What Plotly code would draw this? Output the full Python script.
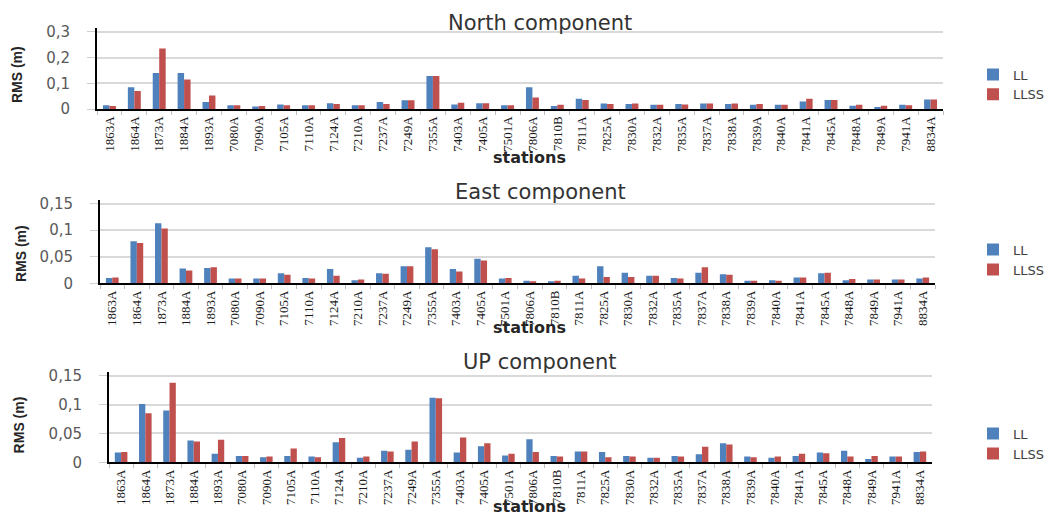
import plotly.graph_objects as go

# Station identifiers (shared by all three components)
stations = ["1863A", "1864A", "1873A", "1884A", "1893A", "7080A", "7090A", "7105A",
            "7110A", "7124A", "7210A", "7237A", "7249A", "7355A", "7403A", "7405A",
            "7501A", "7806A", "7810B", "7811A", "7825A", "7830A", "7832A", "7835A",
            "7837A", "7838A", "7839A", "7840A", "7841A", "7845A", "7848A", "7849A",
            "7941A", "8834A"]

# RMS (m) of the North component
north_ll = [0.015, 0.085, 0.140, 0.140, 0.028, 0.015, 0.010, 0.018, 0.015, 0.023,
            0.015, 0.028, 0.034, 0.128, 0.018, 0.023, 0.015, 0.085, 0.012, 0.040,
            0.022, 0.020, 0.017, 0.020, 0.022, 0.020, 0.017, 0.017, 0.030, 0.035,
            0.013, 0.008, 0.017, 0.037]
north_llss = [0.012, 0.070, 0.235, 0.115, 0.053, 0.015, 0.012, 0.015, 0.015, 0.020,
              0.015, 0.020, 0.034, 0.128, 0.025, 0.023, 0.015, 0.045, 0.017, 0.035,
              0.020, 0.022, 0.017, 0.018, 0.022, 0.022, 0.020, 0.017, 0.040, 0.035,
              0.017, 0.013, 0.015, 0.037]

# RMS (m) of the East component
east_ll = [0.010, 0.079, 0.113, 0.028, 0.029, 0.009, 0.009, 0.019, 0.010, 0.027,
           0.006, 0.019, 0.032, 0.068, 0.027, 0.046, 0.009, 0.005, 0.004, 0.014,
           0.032, 0.020, 0.014, 0.010, 0.020, 0.017, 0.005, 0.006, 0.011, 0.019,
           0.006, 0.007, 0.007, 0.009]
east_llss = [0.011, 0.076, 0.103, 0.024, 0.030, 0.009, 0.009, 0.016, 0.009, 0.014,
             0.007, 0.018, 0.032, 0.064, 0.022, 0.043, 0.010, 0.004, 0.005, 0.009,
             0.012, 0.012, 0.014, 0.009, 0.030, 0.016, 0.005, 0.005, 0.011, 0.020,
             0.008, 0.007, 0.007, 0.011]

# RMS (m) of the UP component
up_ll = [0.017, 0.101, 0.090, 0.038, 0.015, 0.011, 0.009, 0.011, 0.010, 0.035,
         0.008, 0.020, 0.022, 0.112, 0.017, 0.028, 0.012, 0.040, 0.011, 0.019,
         0.018, 0.011, 0.008, 0.011, 0.014, 0.033, 0.010, 0.008, 0.011, 0.017,
         0.020, 0.006, 0.010, 0.018]
up_llss = [0.018, 0.085, 0.138, 0.036, 0.039, 0.011, 0.010, 0.024, 0.009, 0.042,
           0.010, 0.019, 0.036, 0.111, 0.043, 0.033, 0.015, 0.018, 0.010, 0.019,
           0.009, 0.010, 0.008, 0.010, 0.027, 0.031, 0.009, 0.010, 0.015, 0.016,
           0.010, 0.011, 0.010, 0.019]

series_names = ["LL", "LLSS"]
series_colors = ["#4F81BD", "#C0504D"]

panel_titles = ["North component", "East component", "UP component"]
north_ticks = [0, 0.1, 0.2, 0.3]
north_ticktext = ["0", "0,1", "0,2", "0,3"]
small_ticks = [0, 0.05, 0.1, 0.15]
small_ticktext = ["0", "0,05", "0,1", "0,15"]

W, H = 1051, 521
AXIS_OVERSHOOT = 4  # px the value axis runs past its top gridline

panels = [
    dict(ll=north_ll, llss=north_llss, ticks=north_ticks, ticktext=north_ticktext,
         top=0.3, xpx=(97, 943), ypx=(27.5, 107), title_y=18,
         ytitle=(17, 72), xtitle_y=157, legend_y=56),
    dict(ll=east_ll, llss=east_llss, ticks=small_ticks, ticktext=small_ticktext,
         top=0.15, xpx=(100, 935), ypx=(204, 286), title_y=192,
         ytitle=(21, 256), xtitle_y=331, legend_y=236),
    dict(ll=up_ll, llss=up_llss, ticks=small_ticks, ticktext=small_ticktext,
         top=0.15, xpx=(109, 932), ypx=(381, 470), title_y=367,
         ytitle=(19, 432), xtitle_y=515, legend_y=425),
]

fig = go.Figure()
annotations = []
layout_axes = {}

for i, p in enumerate(panels):
    n = "" if i == 0 else str(i + 1)
    leg = "legend" + n
    for name, color, vals in zip(series_names, series_colors, [p["ll"], p["llss"]]):
        fig.add_trace(go.Bar(
            x=stations, y=vals, name=name, marker=dict(color=color, line=dict(width=0)),
            xaxis="x" + n, yaxis="y" + n, legend=leg,
        ))

    x0, x1 = p["xpx"]
    ytop, ybot = p["ypx"]
    per_px = p["top"] / (ybot - ytop)
    ytop_ext = ytop - AXIS_OVERSHOOT
    layout_axes["xaxis" + n] = dict(
        domain=[x0 / W, x1 / W], anchor="y" + n, type="category",
        showline=True, linecolor="black", linewidth=2,
        ticks="outside", tickson="boundaries", ticklen=4, tickcolor="#bfbfbf",
        tickangle=-90, tickfont=dict(family="Liberation Serif", size=13, color="#1a1a1a"),
        showgrid=False, fixedrange=True,
    )
    layout_axes["yaxis" + n] = dict(
        domain=[1 - ybot / H, 1 - ytop_ext / H], anchor="x" + n,
        range=[0, p["top"] + AXIS_OVERSHOOT * per_px],
        tickvals=p["ticks"], ticktext=p["ticktext"],
        showline=True, linecolor="black", linewidth=2,
        ticks="outside", ticklen=8, tickcolor="#d0d0d0",
        ticklabelstandoff=14,
        tickfont=dict(family="DejaVu Sans", size=15, color="#595959"),
        showgrid=True, gridcolor="#d9d9d9", gridwidth=1.5, zeroline=False,
    )
    layout_axes[leg] = dict(
        x=973 / W, y=1 - p["legend_y"] / H, xanchor="left", yanchor="top",
        bgcolor="rgba(0,0,0,0)", font=dict(family="DejaVu Sans", size=13, color="#404040"),
        itemwidth=30,
    )

    annotations.append(dict(
        text=panel_titles[i], x=540 / W, y=1 - p["title_y"] / H, xref="paper", yref="paper",
        xanchor="center", yanchor="middle", showarrow=False,
        font=dict(family="DejaVu Sans", size=21, color="#333333"),
    ))
    annotations.append(dict(
        text="<b>RMS (m)</b>", x=p["ytitle"][0] / W, y=1 - p["ytitle"][1] / H,
        xref="paper", yref="paper", xanchor="center", yanchor="middle", showarrow=False,
        textangle=-90, font=dict(family="Liberation Sans", size=14, color="#262626"),
    ))
    annotations.append(dict(
        text="<b>stations</b>", x=529 / W, y=1 - p["xtitle_y"] / H,
        xref="paper", yref="paper", xanchor="center", yanchor="middle", showarrow=False,
        font=dict(family="DejaVu Sans", size=16, color="#262626"),
    ))

fig.update_layout(
    width=W, height=H, margin=dict(l=0, r=0, t=0, b=0),
    paper_bgcolor="white", plot_bgcolor="white",
    barmode="group", bargap=0.48, bargroupgap=0,
    separators=", ",
    annotations=annotations,
    **layout_axes,
)

fig.write_html("out.html")
